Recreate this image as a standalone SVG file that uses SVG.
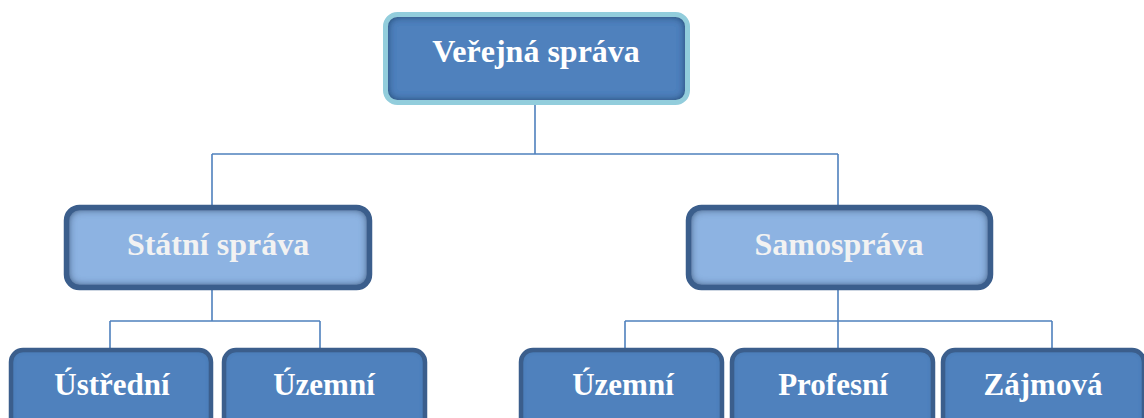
<svg xmlns="http://www.w3.org/2000/svg" width="1144" height="418" viewBox="0 0 1144 418">
<defs>
<filter id="inner" x="-10%" y="-20%" width="120%" height="140%">
<feFlood flood-color="#17365D" flood-opacity="1"/>
<feComposite in2="SourceAlpha" operator="out"/>
<feGaussianBlur stdDeviation="5"/>
<feComposite in2="SourceAlpha" operator="in" result="sh"/>
<feMerge><feMergeNode in="SourceGraphic"/><feMergeNode in="sh"/><feMergeNode in="sh"/></feMerge>
</filter>
<filter id="innerSoft" x="-10%" y="-20%" width="120%" height="140%">
<feFlood flood-color="#1F3F6F" flood-opacity="0.6"/>
<feComposite in2="SourceAlpha" operator="out"/>
<feGaussianBlur stdDeviation="2.5"/>
<feComposite in2="SourceAlpha" operator="in" result="sh"/>
<feMerge><feMergeNode in="SourceGraphic"/><feMergeNode in="sh"/></feMerge>
</filter>
</defs>
<style>
text{font-family:"Liberation Serif","Times New Roman",serif;font-weight:bold;font-size:31px;text-anchor:middle}
.big{font-size:32px}
.top-fill{fill:#4F81BD}
.mid-fill{fill:#8DB3E2}
.bot-fill{fill:#4F81BD}
.top-border{fill:none;stroke:#92CDDC;stroke-width:5}
.mid-border{fill:none;stroke:#3B5E8C;stroke-width:5.5}
.bot-border{fill:none;stroke:#3B5E8C;stroke-width:4.5}
.lt{fill:#FFFFFF}
.mt{fill:#F2F2F2}
.conn{fill:none;stroke:#4F81BD;stroke-width:1.6}
</style>
<g id="connectors">
<path class="conn" d="M535,105 V154 M212,154 H838 M212,154 V205 M838,154 V205"/>
<path class="conn" d="M212,290 V321 M110,321 H320 M110,321 V348 M320,321 V348"/>
<path class="conn" d="M838,290 V321 M625,321 H1052 M625,321 V348 M838,321 V348 M1052,321 V348"/>
</g>
<g id="verejna-sprava">
<rect class="top-fill" filter="url(#inner)" x="385.5" y="14.5" width="302" height="88" rx="12"/>
<rect class="top-border" x="385.5" y="14.5" width="302" height="88" rx="12"/>
<text class="lt big" x="536" y="62">Veřejná správa</text>
</g>
<g id="statni-sprava">
<rect class="mid-fill" filter="url(#inner)" x="66.5" y="207.5" width="303" height="80" rx="13"/>
<rect class="mid-border" x="66.5" y="207.5" width="303" height="80" rx="13"/>
<text class="mt big" x="218" y="255">Státní správa</text>
</g>
<g id="samosprava">
<rect class="mid-fill" filter="url(#inner)" x="688.5" y="207.5" width="302" height="80" rx="13"/>
<rect class="mid-border" x="688.5" y="207.5" width="302" height="80" rx="13"/>
<text class="mt big" x="839" y="255">Samospráva</text>
</g>
<g id="ustredni">
<rect class="bot-fill" filter="url(#innerSoft)" x="11" y="350" width="200" height="80" rx="12"/>
<rect class="bot-border" x="11" y="350" width="200" height="80" rx="12"/>
<text class="lt" x="112" y="395">Ústřední</text>
</g>
<g id="uzemni-statni">
<rect class="bot-fill" filter="url(#innerSoft)" x="224" y="350" width="201" height="80" rx="12"/>
<rect class="bot-border" x="224" y="350" width="201" height="80" rx="12"/>
<text class="lt" x="324" y="395">Územní</text>
</g>
<g id="uzemni-samo">
<rect class="bot-fill" filter="url(#innerSoft)" x="521" y="350" width="201" height="80" rx="12"/>
<rect class="bot-border" x="521" y="350" width="201" height="80" rx="12"/>
<text class="lt" x="623" y="395">Územní</text>
</g>
<g id="profesni">
<rect class="bot-fill" filter="url(#innerSoft)" x="732" y="350" width="201" height="80" rx="12"/>
<rect class="bot-border" x="732" y="350" width="201" height="80" rx="12"/>
<text class="lt" x="833" y="395">Profesní</text>
</g>
<g id="zajmova">
<rect class="bot-fill" filter="url(#innerSoft)" x="943" y="350" width="201" height="80" rx="12"/>
<rect class="bot-border" x="943" y="350" width="201" height="80" rx="12"/>
<text class="lt" x="1043" y="395">Zájmová</text>
</g>
</svg>
